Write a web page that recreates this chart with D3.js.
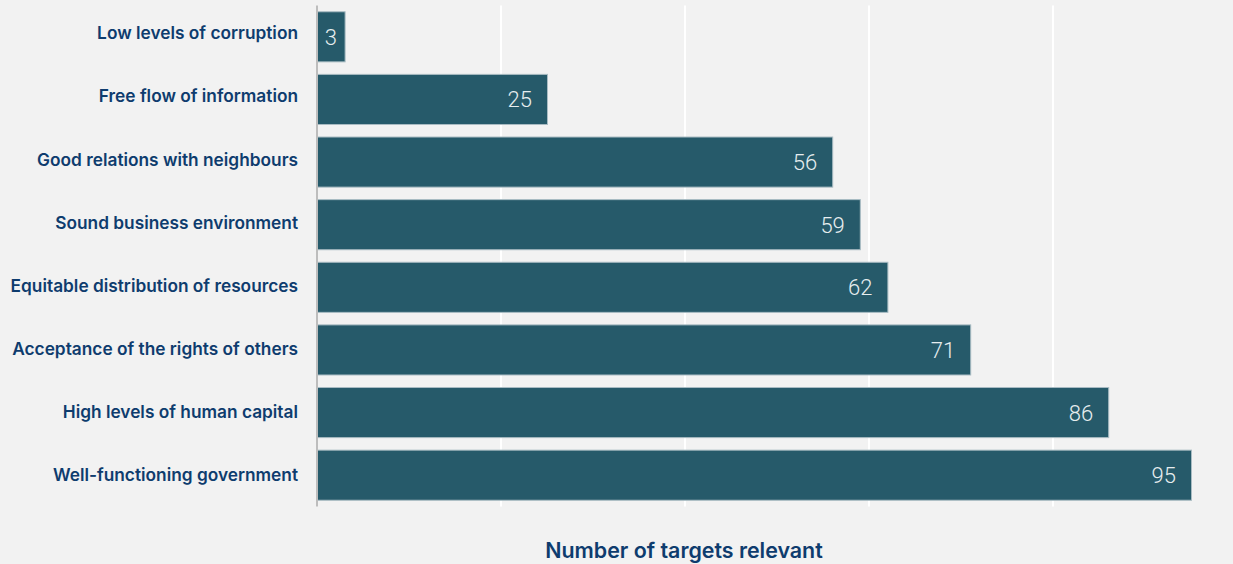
<!DOCTYPE html>
<html lang="en">
<head>
<meta charset="UTF-8">
<title>Targets relevant</title>
<script src="https://d3js.org/d3.v7.min.js"></script>
<style>
    html, body { margin: 0; padding: 0; background: #f2f2f2; }
    .cat { font-family: Inter, "Noto Sans", sans-serif; font-weight: 600; font-size: 17.3px; fill: #0e3c6e; }
    .val { font-family: Roboto, Lato, sans-serif; font-weight: 300; font-size: 22px; fill: #e6edef; }
    .title { font-family: Inter, "Noto Sans", sans-serif; font-weight: 600; font-size: 21.4px; fill: #0e3c6e; }
</style>
</head>
<body>
<script>
    // data
    const categories = [
        "Low levels of corruption",
        "Free flow of information",
        "Good relations with neighbours",
        "Sound business environment",
        "Equitable distribution of resources",
        "Acceptance of the rights of others",
        "High levels of human capital",
        "Well-functioning government"
    ];
    const values = [3, 25, 56, 59, 62, 71, 86, 95];
    const gridTicks = [20, 40, 60, 80, 100];
    const axisTitle = "Number of targets relevant";

    const w = 1233, h = 564;
    const svg = d3.select("body").append("svg")
        .attr("width", w).attr("height", h);

    const rows = categories.map((c, i) => ({ cat: c, v: values[i] }));

    const x = d3.scaleLinear().domain([0, 100]).range([317, 1237]);
    const y = d3.scaleBand().domain(categories).range([5.5, 506.5])
        .paddingInner(0.2).paddingOuter(0.1);
    // labels sit on a slightly wider spacing than the bars
    const yLab = d3.scalePoint().domain(categories).range([33, 474.5]);

    // gridlines
    svg.append("g").selectAll("line")
        .data(gridTicks).enter().append("line")
        .attr("x1", d => x(d)).attr("x2", d => x(d))
        .attr("y1", y.range()[0]).attr("y2", y.range()[1])
        .attr("stroke", "#ffffff").attr("stroke-width", 2);

    // bars
    svg.append("g").selectAll("rect")
        .data(rows).enter().append("rect")
        .attr("x", x(0) + 0.5)
        .attr("y", d => y(d.cat))
        .attr("width", d => x(d.v) - x(0))
        .attr("height", y.bandwidth())
        .attr("fill", "#265a6a")
        .attr("stroke", "#a9bcc3")
        .attr("stroke-width", 1);

    // y axis line
    svg.append("line")
        .attr("x1", x(0)).attr("x2", x(0))
        .attr("y1", y.range()[0]).attr("y2", y.range()[1])
        .attr("stroke", "#bdbdbd").attr("stroke-width", 2);

    // category labels
    svg.append("g").selectAll("text")
        .data(rows).enter().append("text")
        .attr("class", "cat")
        .attr("x", x(0) - 19)
        .attr("y", d => yLab(d.cat) + 6.4)
        .attr("text-anchor", "end")
        .text(d => d.cat);

    // value labels
    svg.append("g").selectAll("text")
        .data(rows).enter().append("text")
        .attr("class", "val")
        .attr("x", d => (x(d.v) - x(0) < 40) ? (x(0) + x(d.v)) / 2 : x(d.v) - 15)
        .attr("y", d => y(d.cat) + y.bandwidth() / 2 + 8)
        .attr("text-anchor", d => (x(d.v) - x(0) < 40) ? "middle" : "end")
        .text(d => d.v);

    // axis title
    svg.append("text")
        .attr("class", "title")
        .attr("x", 684)
        .attr("y", 558)
        .attr("text-anchor", "middle")
        .text(axisTitle);
</script>
</body>
</html>
